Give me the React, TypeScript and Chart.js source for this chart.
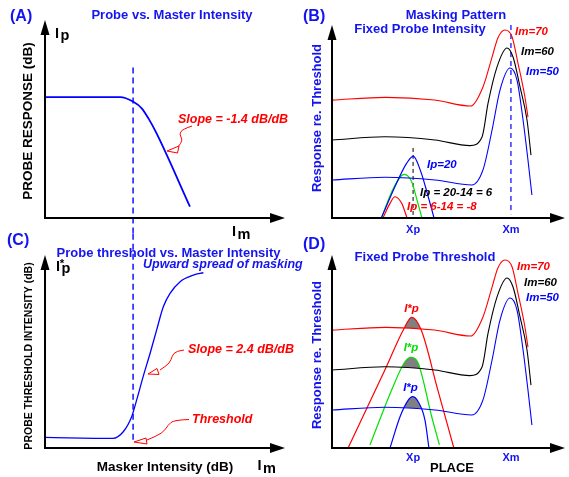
import React, { useEffect, useRef } from 'react';
import { Chart, registerables } from 'chart.js';

Chart.register(...registerables);

const PAGE_W = 569;
const PAGE_H = 477;
const FONT = '"Liberation Sans", Arial, Helvetica, sans-serif';

const BLUE = 'rgb(0,0,255)';
const TXT_BLUE = 'rgb(20,20,240)';
const RED = 'rgb(255,0,0)';
const GREEN = 'rgb(0,225,0)';
const BLACK = '#000000';
const GRAY = 'rgb(128,128,128)';

// ---------------- DATA ----------------
// (A) probe response vs. masker intensity (arbitrary 0-100 units)
const maskerIntensityA = [0, 31.3, 36.8, 40.3, 43.1, 46.5, 60.4];
const probeResponseA = [61, 61, 58.7, 55.4, 50.3, 42.7, 5.7];

// masker intensity at which masking starts (dashed line through A and C)
const maskingOnset = 36.7;
const onsetSpanA = [76, -8];
const onsetSpanC = [111, 2.6];

// (C) probe threshold vs. masker intensity
const maskerIntensityC = [0, 28.3, 32.6, 36.1, 38.2, 40.9, 43.8, 46.5, 49.3, 52.1, 56.3, 61.8, 66];
const probeThresholdC = [5.5, 5.0, 8.4, 16.2, 24.9, 37.0, 49.1, 61.1, 73.2, 80.1, 86.2, 89.6, 90.8];

// (B)/(D) masker excitation patterns along place
const placeIm70 = [0, 23, 44, 59.5, 64.8, 68.7, 71.2, 74.2, 77.3, 79.8, 82.8, 84.1];
const respIm70 = [61.1, 62.5, 61.1, 58, 67.9, 83.4, 93.3, 97.4, 93.8, 80.3, 62.7, 52.3];
const placeIm60 = [0, 22.7, 44.2, 59.2, 64.4, 67, 70.8, 75.1, 77.7, 80.7, 83.7, 85.4];
const respIm60 = [40.4, 42.1, 40.4, 37.5, 42, 59.6, 78.2, 88.1, 83.4, 67.9, 50.8, 32.6];
const placeIm50 = [0, 22.7, 44.2, 60, 64.8, 68.7, 72.1, 76.4, 79.4, 82, 84.1, 85.8];
const respIm50 = [19.7, 21.1, 19.7, 17.1, 24.9, 45.6, 66.3, 77.7, 71.5, 50.8, 30.1, 11.9];

// (B) fixed probe intensity: probe excitation patterns
const placeIp20 = [21.3, 27, 32, 34.9, 38, 40.9, 43.7];
const respIp20 = [0.4, 16.2, 28.3, 32.1, 24.4, 12.8, 0.4];
const placeIp6 = [21.3, 26.3, 31, 34.2, 36.3, 38.5];
const respIp6 = [0.4, 15.3, 22.6, 18.8, 10.2, 0.4];
const placeIpm8 = [22, 24.9, 27, 29.9, 32.1];
const respIpm8 = [0.4, 7.6, 11, 7.6, 0.4];

// (D) fixed probe threshold: probe excitation patterns
const placeThr70 = [6.9, 22.7, 30.6, 34.2, 38.3, 45.4, 52.3];
const respThr70 = [0, 40.4, 61.1, 67.7, 61.1, 30.1, 0];
const placeThr60 = [16.3, 25.6, 31.3, 33.9, 37, 42.8, 46.1];
const respThr60 = [1.6, 30.1, 44.7, 47, 43.9, 16.2, 1.6];
const placeThr50 = [24.9, 29.2, 32.8, 34.5, 37, 39.9, 41.6];
const respThr50 = [0, 16.2, 24.9, 26.6, 24, 14.5, 0];

// probe and masker places
const placeXp = 34.8;
const placeXm = 76.8;
const xpDashSpan = [36.3, 0];
const xmDashSpan = [100, 2];

// ---------------- helpers ----------------
function pts(xs: number[], ys: number[]) {
  return xs.map((x, i) => ({ x, y: ys[i] }));
}

function curve(xs: number[], ys: number[], color: string, width: number, extra: any = {}) {
  return {
    data: pts(xs, ys),
    borderColor: color,
    borderWidth: width,
    pointRadius: 0,
    cubicInterpolationMode: 'monotone',
    fill: false,
    ...extra,
  };
}

function vline(x: number, span: number[], color: string, width: number, dash: number[]) {
  return {
    data: [{ x, y: span[0] }, { x, y: span[1] }],
    borderColor: color,
    borderWidth: width,
    borderDash: dash,
    pointRadius: 0,
    tension: 0,
    fill: false,
    clip: false,
  };
}

type TxtOpt = {
  size: number;
  color: string;
  bold?: boolean;
  italic?: boolean;
  align?: CanvasTextAlign;
  baseline?: CanvasTextBaseline;
  rot?: number;
};

function txt(ctx: CanvasRenderingContext2D, s: string, x: number, y: number, o: TxtOpt) {
  ctx.save();
  ctx.font = `${o.italic ? 'italic ' : ''}${o.bold === false ? '' : 'bold '}${o.size}px ${FONT}`;
  ctx.fillStyle = o.color;
  ctx.textAlign = o.align || 'left';
  ctx.textBaseline = o.baseline || 'middle';
  ctx.translate(x, y);
  if (o.rot) ctx.rotate(o.rot);
  ctx.fillText(s, 0, 0);
  ctx.restore();
}

function iSub(ctx: CanvasRenderingContext2D, x: number, base: number, sub: string, star: boolean) {
  txt(ctx, 'I', x, base, { size: 14.5, color: BLACK, baseline: 'alphabetic' });
  if (star) txt(ctx, '*', x + 3.8, base - 3.5, { size: 11.5, color: BLACK, baseline: 'alphabetic' });
  txt(ctx, sub, x + 5.5, base + (sub === 'p' ? 2.5 : 3), { size: 14.5, color: BLACK, baseline: 'alphabetic' });
}

function axes(ctx: CanvasRenderingContext2D, a: any) {
  ctx.save();
  ctx.strokeStyle = BLACK;
  ctx.fillStyle = BLACK;
  ctx.lineWidth = 2;
  ctx.beginPath();
  ctx.moveTo(a.left, a.top + 10);
  ctx.lineTo(a.left, a.bottom);
  ctx.lineTo(a.right - 10, a.bottom);
  ctx.stroke();
  ctx.beginPath();
  ctx.moveTo(a.left, a.top);
  ctx.lineTo(a.left - 4.5, a.top + 15);
  ctx.lineTo(a.left + 4.5, a.top + 15);
  ctx.closePath();
  ctx.fill();
  ctx.beginPath();
  ctx.moveTo(a.right, a.bottom);
  ctx.lineTo(a.right - 15, a.bottom - 5);
  ctx.lineTo(a.right - 15, a.bottom + 5);
  ctx.closePath();
  ctx.fill();
  ctx.restore();
}

function pointer(ctx: CanvasRenderingContext2D, path: number[][], tip: number[], b1: number[], b2: number[]) {
  ctx.save();
  ctx.strokeStyle = RED;
  ctx.lineWidth = 1;
  ctx.beginPath();
  ctx.moveTo(path[0][0], path[0][1]);
  for (let i = 1; i < path.length - 1; i++) {
    const mx = (path[i][0] + path[i + 1][0]) / 2;
    const my = (path[i][1] + path[i + 1][1]) / 2;
    ctx.quadraticCurveTo(path[i][0], path[i][1], mx, my);
  }
  const last = path[path.length - 1];
  ctx.lineTo(last[0], last[1]);
  ctx.stroke();
  ctx.beginPath();
  ctx.moveTo(tip[0], tip[1]);
  ctx.lineTo(b1[0], b1[1]);
  ctx.lineTo(b2[0], b2[1]);
  ctx.closePath();
  ctx.fillStyle = '#ffffff';
  ctx.fill();
  ctx.stroke();
  ctx.restore();
}

function makeConfig(datasets: any[], padding: any, decor: (ctx: CanvasRenderingContext2D, area: any, chart: any) => void) {
  return {
    type: 'line',
    data: { datasets },
    options: {
      animation: false,
      responsive: false,
      maintainAspectRatio: false,
      events: [],
      layout: { padding },
      plugins: { legend: { display: false }, tooltip: { enabled: false }, title: { display: false } },
      scales: {
        x: { type: 'linear', display: false, min: 0, max: 100 },
        y: { type: 'linear', display: false, min: 0, max: 100 },
      },
    },
    plugins: [
      {
        id: 'decor',
        afterDraw: (chart: any) => decor(chart.ctx, chart.chartArea, chart),
      },
    ],
  } as any;
}

// ---------------- panels ----------------
function configA() {
  const ds = [
    curve(maskerIntensityA, probeResponseA, BLUE, 1.8),
    vline(maskingOnset, onsetSpanA, BLUE, 1.4, [6, 4]),
  ];
  return makeConfig(ds, { left: 45, top: 20, right: PAGE_W - 285, bottom: PAGE_H - 218 }, (ctx, a) => {
    axes(ctx, a);
    txt(ctx, '(A)', 10, 16.5, { size: 16, color: TXT_BLUE });
    txt(ctx, 'Probe vs. Master Intensity', 172, 15, { size: 13, color: TXT_BLUE, align: 'center' });
    txt(ctx, 'PROBE RESPONSE (dB)', 28, 121, { size: 13.5, color: BLACK, align: 'center', rot: -Math.PI / 2 });
    iSub(ctx, 55, 37.5, 'p', false);
    iSub(ctx, 232, 236, 'm', false);
    txt(ctx, 'Slope = -1.4 dB/dB', 178, 120, { size: 12.5, color: RED, italic: true });
    pointer(ctx, [[192, 126], [183, 129], [179, 134], [183, 140], [178, 147]], [167, 151], [179, 146], [177.5, 153]);
  });
}

function configC() {
  const ds = [
    curve(maskerIntensityC, probeThresholdC, BLUE, 1.3),
    vline(maskingOnset, onsetSpanC, BLUE, 1.4, [6, 4]),
  ];
  return makeConfig(ds, { left: 45, top: 255, right: PAGE_W - 285, bottom: PAGE_H - 448 }, (ctx, a) => {
    axes(ctx, a);
    txt(ctx, '(C)', 7, 240.5, { size: 16, color: TXT_BLUE });
    txt(ctx, 'Probe threshold vs. Master Intensity', 168.5, 253, { size: 13, color: TXT_BLUE, align: 'center' });
    txt(ctx, 'Upward spread of masking', 143, 264.5, { size: 12.5, color: TXT_BLUE, italic: true });
    txt(ctx, 'PROBE THRESHOLD INTENSITY (dB)', 29, 356, { size: 10.5, color: BLACK, align: 'center', rot: -Math.PI / 2 });
    iSub(ctx, 56, 270.5, 'p', true);
    iSub(ctx, 257.5, 470, 'm', false);
    txt(ctx, 'Masker Intensity (dB)', 165, 467, { size: 13.5, color: BLACK, align: 'center' });
    txt(ctx, 'Slope = 2.4 dB/dB', 188, 350, { size: 12.5, color: RED, italic: true });
    txt(ctx, 'Threshold', 192, 420, { size: 12.5, color: RED, italic: true });
    pointer(ctx, [[184, 350], [176, 351], [172, 356], [170, 363], [160, 370]], [148, 374], [157, 368.5], [159, 374.5]);
    pointer(ctx, [[189, 419.5], [174, 420], [168, 425], [163, 433], [147, 440]], [134, 442], [146, 438], [147, 444]);
  });
}

function maskers() {
  return [
    curve(placeIm70, respIm70, RED, 1.1),
    curve(placeIm60, respIm60, BLACK, 1.1),
    curve(placeIm50, respIm50, BLUE, 1.1),
  ];
}

function configB() {
  const ds = [
    ...maskers(),
    curve(placeIp20, respIp20, BLUE, 1.2),
    curve(placeIp6, respIp6, GREEN, 1.2),
    curve(placeIpm8, respIpm8, RED, 1.2),
    vline(placeXp, xpDashSpan, BLACK, 1, [4, 3]),
    vline(placeXm, xmDashSpan, BLUE, 1.2, [5, 4]),
  ];
  return makeConfig(ds, { left: 332, top: 25, right: PAGE_W - 565, bottom: PAGE_H - 218 }, (ctx, a, chart) => {
    axes(ctx, a);
    const xs = chart.scales.x;
    txt(ctx, '(B)', 303, 17, { size: 16, color: TXT_BLUE });
    txt(ctx, 'Masking Pattern', 456, 15, { size: 13, color: TXT_BLUE, align: 'center' });
    txt(ctx, 'Fixed Probe Intensity', 420, 29.5, { size: 13, color: TXT_BLUE, align: 'center' });
    txt(ctx, 'Response re. Threshold', 317, 118, { size: 13, color: TXT_BLUE, align: 'center', rot: -Math.PI / 2 });
    txt(ctx, 'Im=70', 515, 32, { size: 11.5, color: RED, italic: true });
    txt(ctx, 'Im=60', 521, 52, { size: 11.5, color: BLACK, italic: true });
    txt(ctx, 'Im=50', 526, 72, { size: 11.5, color: BLUE, italic: true });
    txt(ctx, 'Ip=20', 427, 165, { size: 11.5, color: BLUE, italic: true });
    txt(ctx, 'Ip = 20-14 = 6', 420, 193, { size: 11.5, color: BLACK, italic: true });
    txt(ctx, 'Ip = 6-14 = -8', 407, 207, { size: 11.5, color: RED, italic: true });
    txt(ctx, 'Xp', xs.getPixelForValue(placeXp), 230, { size: 11, color: TXT_BLUE, align: 'center' });
    txt(ctx, 'Xm', xs.getPixelForValue(placeXm), 230, { size: 11, color: TXT_BLUE, align: 'center' });
  });
}

function configD() {
  const gray = (t: number) => ({ fill: { target: t, above: GRAY, below: 'rgba(0,0,0,0)' } });
  const ds = [
    ...maskers(),
    curve(placeThr70, respThr70, RED, 1.2, gray(0)),
    curve(placeThr60, respThr60, GREEN, 1.2, gray(1)),
    curve(placeThr50, respThr50, BLUE, 1.2, gray(2)),
  ];
  return makeConfig(ds, { left: 332, top: 255, right: PAGE_W - 565, bottom: PAGE_H - 448 }, (ctx, a, chart) => {
    axes(ctx, a);
    const xs = chart.scales.x;
    txt(ctx, '(D)', 303, 245, { size: 16, color: TXT_BLUE });
    txt(ctx, 'Fixed Probe Threshold', 425, 257, { size: 13, color: TXT_BLUE, align: 'center' });
    txt(ctx, 'Response re. Threshold', 317, 355, { size: 13, color: TXT_BLUE, align: 'center', rot: -Math.PI / 2 });
    txt(ctx, 'Im=70', 517, 267, { size: 11.5, color: RED, italic: true });
    txt(ctx, 'Im=60', 524, 282.5, { size: 11.5, color: BLACK, italic: true });
    txt(ctx, 'Im=50', 526, 297.5, { size: 11.5, color: BLUE, italic: true });
    txt(ctx, 'I*p', 411.5, 309, { size: 11.5, color: RED, italic: true, align: 'center' });
    txt(ctx, 'I*p', 411, 348, { size: 11.5, color: GREEN, italic: true, align: 'center' });
    txt(ctx, 'I*p', 410.5, 387.5, { size: 11.5, color: BLUE, italic: true, align: 'center' });
    txt(ctx, 'Xp', xs.getPixelForValue(placeXp), 458, { size: 11, color: TXT_BLUE, align: 'center' });
    txt(ctx, 'Xm', xs.getPixelForValue(placeXm), 458, { size: 11, color: TXT_BLUE, align: 'center' });
    txt(ctx, 'PLACE', 452, 468.5, { size: 13, color: BLACK, align: 'center' });
  });
}

function Panel({ build }: { build: () => any }) {
  const ref = useRef<HTMLCanvasElement>(null);
  useEffect(() => {
    const chart = new Chart(ref.current as HTMLCanvasElement, build());
    return () => chart.destroy();
  }, [build]);
  return (
    <canvas
      ref={ref}
      width={PAGE_W}
      height={PAGE_H}
      style={{ position: 'absolute', left: 0, top: 0, width: PAGE_W, height: PAGE_H }}
    />
  );
}

export default function App() {
  return (
    <div
      style={{
        position: 'fixed',
        left: 0,
        top: 0,
        width: PAGE_W,
        height: PAGE_H,
        background: '#ffffff',
        overflow: 'hidden',
      }}
    >
      <Panel build={configA} />
      <Panel build={configB} />
      <Panel build={configC} />
      <Panel build={configD} />
    </div>
  );
}
